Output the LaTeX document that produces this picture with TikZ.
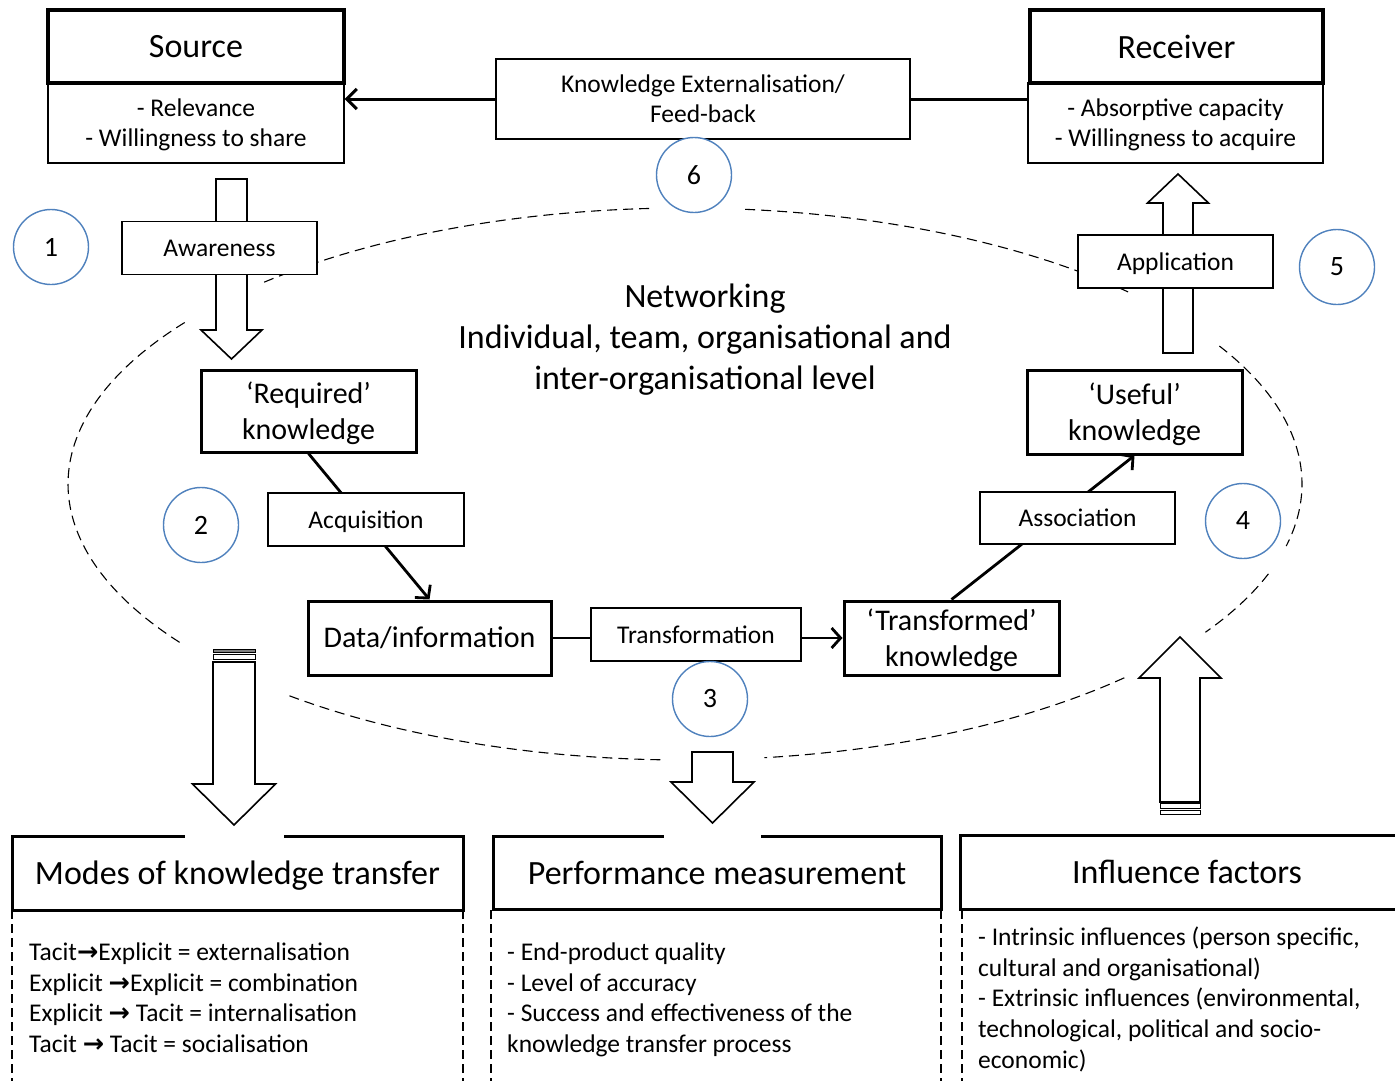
\documentclass[tikz,border=0pt]{standalone}
\usepackage{fontspec}
\setmainfont{Carlito}
\newfontfamily\arrowfont{DejaVu Sans}
\usetikzlibrary{calc,shapes,arrows.meta}
\definecolor{circleblue}{RGB}{79,129,189}
\newcommand{\ra}{{\arrowfont\bfseries →}}
\tikzset{
  headbox/.style={draw, line width=3.5pt, fill=white, inner sep=0pt, align=center, text depth=0pt, font=\fontsize{34}{38}\selectfont},
  listbox/.style={draw, line width=1.3pt, fill=white, inner sep=0pt, align=center, font=\fontsize{25.5}{30}\selectfont},
  kbox/.style={draw, line width=3pt, fill=white, inner sep=0pt, align=center, font=\fontsize{30}{36}\selectfont},
  twoline/.style={text depth=0pt},
  stepname/.style={draw, line width=1.3pt, fill=white, inner sep=0pt, text depth=0pt, font=\fontsize{25.5}{28}\selectfont},
  numcircle/.style={circle, draw=circleblue, line width=1.4pt, fill=white, minimum size=75pt, inner sep=0pt, font=\fontsize{28}{30}\selectfont},
  blockarrow/.style={draw, line width=1.6pt, fill=white, line join=miter},
  flowarrow/.style={line width=2.8pt, -{Straight Barb[length=9pt,width=20pt]}},
  loopdash/.style={line width=1.1pt, dash pattern=on 10pt off 6pt},
  moddash/.style={line width=1.1pt, dash pattern=on 9pt off 5pt},
  textlist/.style={anchor=north west, inner sep=0pt, align=left, font=\fontsize{25.5}{30.7}\selectfont},
}
\begin{document}
\begin{tikzpicture}[x=1pt,y=-1pt]
\useasboundingbox (0,0) rectangle (1395,1081);
% the dashed networking loop
\foreach \a/\b in {145/216.5,227/267,275.6/316,330/373,19/32.5,44.6/82.6,92.3/130.3}
  \draw[loopdash] (685,484) ++(\a:617 and 276) arc[start angle=\a, end angle=\b, x radius=617, y radius=276];

% source and receiver
\node[listbox, twoline, minimum width=296pt, minimum height=80pt] (srcdesc) at (196,123) {- Relevance\\- Willingness to share};
\node[headbox, minimum width=296pt, minimum height=73pt] (src) at (196,46.5) {Source};
\node[listbox, twoline, minimum width=295pt, minimum height=80pt] (recdesc) at (1175.5,123) {- Absorptive capacity\\- Willingness to acquire};
\node[headbox, minimum width=293pt, minimum height=73pt] (rec) at (1176.5,46.5) {Receiver};

% feed-back
\node[listbox, minimum width=414pt, minimum height=80pt] (fb) at (703,99) {Knowledge Externalisation/\\Feed-back};
\draw[line width=3pt, -{Straight Barb[length=10pt,width=20pt]}] (fb.west) -- (fb.west -| srcdesc.east);
\draw[line width=3pt] (fb.east) -- (fb.east -| recdesc.west);

% block arrows
\draw[blockarrow, shift={(231.5,179)}] (-15.5,0) -- (15.5,0) -- (15.5,151) -- (30.5,151) -- (0,180) -- (-30.5,151) -- (-15.5,151) -- cycle;
\draw[blockarrow, shift={(1178,353)}] (-15,0) -- (-15,-150) -- (-30.5,-150) -- (0,-179) -- (30.5,-150) -- (15,-150) -- (15,0) -- cycle;
\draw[blockarrow, shift={(234,662)}] (-21,0) -- (21,0) -- (21,122) -- (41.5,122) -- (0,163) -- (-41.5,122) -- (-21,122) -- cycle;
\draw[line width=1pt, fill=gray] (213,649) rectangle (255,652);
\draw[line width=1pt, fill=white] (213,654.5) rectangle (255,659.5);
\draw[blockarrow, shift={(712.5,752)}] (-20.5,0) -- (20.5,0) -- (20.5,30) -- (41.5,30) -- (0,71) -- (-41.5,30) -- (-20.5,30) -- cycle;
\draw[blockarrow, shift={(1180,802)}] (-20,0) -- (-20,-124) -- (-41,-124) -- (0,-165) -- (41,-124) -- (20,-124) -- (20,0) -- cycle;
\draw[line width=1pt, fill=white] (1160,803.5) rectangle (1200,808);
\draw[line width=1pt, fill=white] (1160,810) rectangle (1200,814);

\node[stepname, minimum width=195pt, minimum height=53pt] (aware) at (219.5,248) {Awareness};
\node[stepname, minimum width=195pt, minimum height=53pt] (appl) at (1175.5,261.5) {Application};

% middle flow
\node[kbox, twoline, minimum width=215pt, minimum height=82pt] (req) at (308.5,411) {‘Required’\\knowledge};
\node[kbox, minimum width=243pt, minimum height=74pt] (data) at (429.5,638) {Data/information};
\node[kbox, twoline, minimum width=215pt, minimum height=74pt] (tfd) at (951.5,638) {‘Transformed’\\knowledge};
\node[kbox, twoline, minimum width=215pt, minimum height=84pt] (useful) at (1134.5,412) {‘Useful’\\knowledge};
\draw[flowarrow] (req.south) -- (data.north);
\draw[flowarrow] (data.east) -- (tfd.west);
\draw[flowarrow] (tfd.north) -- (useful.south);
\node[stepname, minimum width=196pt, minimum height=53pt] (acq) at (366,519.5) {Acquisition};
\node[stepname, minimum width=210pt, minimum height=53pt] (trans) at (696,634.5) {Transformation};
\node[stepname, minimum width=195pt, minimum height=52pt] (assoc) at (1077.5,518) {Association};

\node[align=center, font=\fontsize{34}{41}\selectfont] (net) at (705,340) {Networking\\Individual, team, organisational and\\inter-organisational level};

% numbers
\node[numcircle] (n1) at (51,247) {1};
\node[numcircle] (n2) at (201,525) {2};
\node[numcircle] (n3) at (710,699) {3};
\node[numcircle] (n4) at (1243,521) {4};
\node[numcircle] (n5) at (1337,267) {5};
\node[numcircle] (n6) at (694,175) {6};

% bottom boxes
\draw[moddash] (12,910) -- (12,1085);
\draw[moddash] (463,910) -- (463,1085);
\draw[moddash] (491,910) -- (491,1085);
\draw[moddash] (941,910) -- (941,1085);
\draw[moddash] (962,910) -- (962,1085);
\node[headbox, line width=3pt, minimum width=451pt, minimum height=74pt] (modes) at (237.5,873) {Modes of knowledge transfer};
\node[headbox, line width=3pt, minimum width=448pt, minimum height=73pt] (perf) at (717,872.5) {Performance measurement};
\node[headbox, line width=3pt, minimum width=454pt, minimum height=74pt] (infl) at (1187,872) {Influence factors};
\draw[white, line width=4.5pt] (185,836) -- (284,836);
\draw[white, line width=4.5pt] (664,835.5) -- (761,835.5);

\node[textlist] (modestext) at (29,942.5) {Tacit\ra Explicit = externalisation\\Explicit \ra Explicit = combination\\Explicit \ra\ Tacit = internalisation\\Tacit \ra\ Tacit = socialisation};
\node[textlist] (perftext) at (507,942.5) {- End-product quality\\- Level of accuracy\\- Success and effectiveness of the\\knowledge transfer process};
\node[textlist] (infltext) at (978,926.5) {- Intrinsic influences (person specific,\\cultural and organisational)\\- Extrinsic influences (environmental,\\technological, political and socio-\\economic)};
\end{tikzpicture}
\end{document}
